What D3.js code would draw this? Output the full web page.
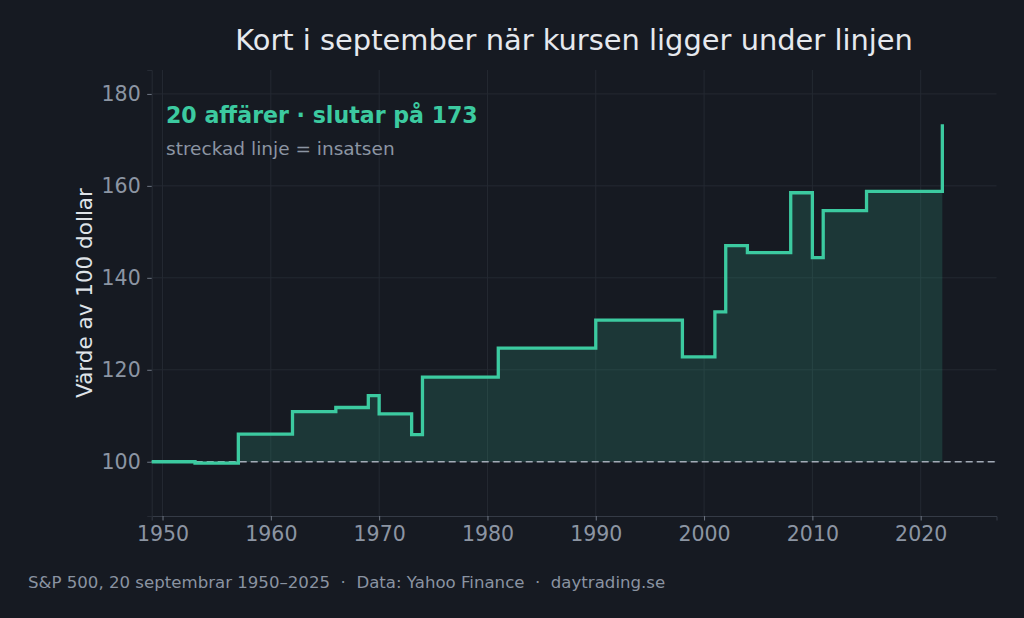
<!DOCTYPE html>
<html lang="sv">
<head>
    <meta charset="UTF-8">
    <title>Kort i september</title>
    <script src="https://cdnjs.cloudflare.com/ajax/libs/d3/7.8.5/d3.min.js"></script>
    <style type="text/css">
        html, body {
            margin: 0;
            padding: 0;
            background: #161a22;
        }
        svg {
            display: block;
            font-family: "DejaVu Sans", sans-serif;
        }
    </style>
</head>
<body>
<div class="container"></div>
</body>
<script>
    // portfolio value after each trade (step starts at the year)
    const years = [1949, 1953, 1957, 1962, 1966, 1969, 1970, 1973, 1974, 1981,
        1990, 1998, 2001, 2002, 2004, 2008, 2010, 2011, 2015, 2022];
    const values = [100.0, 99.7, 106.0, 110.9, 111.8, 114.4, 110.4, 105.9, 118.4, 124.7,
        130.8, 122.8, 132.6, 147.0, 145.5, 158.5, 144.4, 154.6, 158.8, 173.4];
    const xTicks = [1950, 1960, 1970, 1980, 1990, 2000, 2010, 2020];
    const yTicks = [100, 120, 140, 160, 180];
    const stake = 100;

    const data = years.map((y, i) => ({x: y, y: values[i]}));

    const W = 1024;
    const H = 618;
    const margin = {top: 70, right: 27.5, bottom: 102, left: 151.7};
    const width = W - margin.left - margin.right;
    const height = H - margin.top - margin.bottom;

    const lineColor = '#3ccaa0';
    const gridColor = '#242932';
    const tickColor = '#8c95a3';

    const svg = d3.select('.container')
        .append('svg')
        .attr('width', W)
        .attr('height', H);

    svg.append('rect')
        .attr('width', W)
        .attr('height', H)
        .attr('fill', '#161a22');

    const xScale = d3.scaleLinear()
        .domain([1949, 2027])
        .range([0, width]);

    const yScale = d3.scaleLinear()
        .domain([88.2, 185.2])
        .range([height, 0]);

    const g = svg.append('g')
        .attr('transform', 'translate(' + margin.left + ', ' + margin.top + ')');

    // --- grid

    g.selectAll('line.gx')
        .data(xTicks)
        .enter()
        .append('line')
        .attr('class', 'gx')
        .attr('x1', d => xScale(d))
        .attr('x2', d => xScale(d))
        .attr('y1', 0)
        .attr('y2', height)
        .attr('stroke', gridColor)
        .attr('stroke-width', 1);

    g.selectAll('line.gy')
        .data(yTicks)
        .enter()
        .append('line')
        .attr('class', 'gy')
        .attr('x1', 0)
        .attr('x2', width)
        .attr('y1', d => yScale(d))
        .attr('y2', d => yScale(d))
        .attr('stroke', gridColor)
        .attr('stroke-width', 1);

    // --- axes

    const xAxis = d3.axisBottom(xScale)
        .tickValues(xTicks)
        .tickFormat(d3.format('d'))
        .tickSize(4.5)
        .tickPadding(5.5);

    const yAxis = d3.axisLeft(yScale)
        .tickValues(yTicks)
        .tickSize(4.5)
        .tickPadding(6.5);

    const gx = g.append('g')
        .attr('class', 'axis x')
        .attr('transform', 'translate(0, ' + height + ')')
        .call(xAxis);

    const gy = g.append('g')
        .attr('class', 'axis y')
        .call(yAxis);

    gx.select('.domain').attr('stroke', '#353b46');
    gy.select('.domain').attr('stroke', '#262b34');
    [gx, gy].forEach(a => {
        a.selectAll('.tick line').attr('stroke', '#6f7784');
        a.selectAll('.tick text')
            .attr('fill', tickColor)
            .attr('font-size', 20.5)
            .attr('font-family', '"DejaVu Sans", sans-serif');
    });

    // --- area + step line

    const area = d3.area()
        .x(d => xScale(d.x))
        .y0(yScale(stake))
        .y1(d => yScale(d.y))
        .curve(d3.curveStepAfter);

    g.append('path')
        .attr('fill', lineColor)
        .attr('fill-opacity', 0.17)
        .attr('d', area(data));

    g.append('line')
        .attr('x1', 0)
        .attr('x2', width)
        .attr('y1', yScale(stake))
        .attr('y2', yScale(stake))
        .attr('stroke', '#a3abb7')
        .attr('stroke-width', 1.5)
        .attr('stroke-dasharray', '7,4');

    const line = d3.line()
        .x(d => xScale(d.x))
        .y(d => yScale(d.y))
        .curve(d3.curveStepAfter);

    g.append('path')
        .attr('fill', 'none')
        .attr('stroke', lineColor)
        .attr('stroke-width', 3.3)
        .attr('stroke-linejoin', 'miter')
        .attr('d', line(data));

    // --- texts

    const last = values[values.length - 1];

    g.append('text')
        .attr('x', 14.3)
        .attr('y', 53)
        .attr('fill', lineColor)
        .attr('font-size', 22.1)
        .attr('font-weight', 'bold')
        .text(years.length + ' affärer · slutar på ' + Math.round(last));

    g.append('text')
        .attr('x', 14.3)
        .attr('y', 85)
        .attr('fill', '#8c95a3')
        .attr('font-size', 18.5)
        .text('streckad linje = insatsen');

    svg.append('text')
        .attr('x', margin.left + width / 2)
        .attr('y', 49.5)
        .attr('text-anchor', 'middle')
        .attr('fill', '#e6e9ee')
        .attr('font-size', 28.9)
        .text('Kort i september när kursen ligger under linjen');

    svg.append('text')
        .attr('transform', 'translate(92, ' + (margin.top + height / 2) + ') rotate(-90)')
        .attr('text-anchor', 'middle')
        .attr('fill', '#dfe3e8')
        .attr('font-size', 21.5)
        .text('Värde av 100 dollar');

    svg.append('text')
        .attr('x', 28)
        .attr('y', 587.5)
        .attr('fill', '#8a93a1')
        .attr('font-size', 16.6)
        .attr('xml:space', 'preserve')
        .style('white-space', 'pre')
        .text('S&P 500, 20 septembrar 1950–2025  ·  Data: Yahoo Finance  ·  daytrading.se');
</script>
</html>
